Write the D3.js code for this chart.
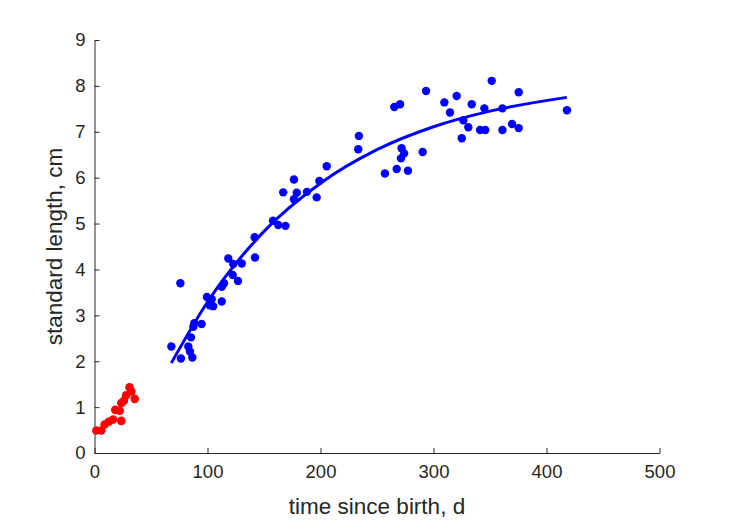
<!DOCTYPE html>
<html><head><meta charset="utf-8">
<script src="https://cdn.jsdelivr.net/npm/d3@7"></script>
<style>body{margin:0;background:#fff}svg{display:block}</style>
</head><body>
<script>
const redT = [1.6, 6, 9, 12.6, 16.4, 18.4, 22.3, 23.7, 23.7, 26, 28, 31, 32.6, 35.6];
const redL = [0.49, 0.49, 0.62, 0.68, 0.73, 0.94, 0.92, 0.70, 1.09, 1.14, 1.26, 1.43, 1.34, 1.18];
const blueT = [68, 76, 76.5, 83, 84.5, 85.4, 86.6, 87.5, 88.3, 94.8, 99.5, 103.7, 102, 105, 112.6, 112.6, 114.6,
  118.4, 122.3, 122.8, 127, 130.3, 141.7, 142, 158, 162.6, 169, 167, 176.5, 176.5, 179, 188, 196.6, 199, 205.5,
  233.4, 234, 257, 265.3, 267.4, 270.4, 271.2, 271.8, 274, 277.4, 290.4, 293.4, 309.6, 314.6, 320.5, 325, 326.4,
  330.8, 333.8, 341.2, 345, 345.8, 351.5, 361, 361, 369.5, 375.4, 375.4, 418.1];
const blueL = [2.32, 3.70, 2.06, 2.32, 2.21, 2.52, 2.08, 2.75, 2.83, 2.81, 3.40, 3.35, 3.22, 3.20, 3.30, 3.62, 3.70,
  4.24, 3.88, 4.12, 3.75, 4.13, 4.70, 4.26, 5.06, 4.97, 4.95, 5.68, 5.96, 5.53, 5.67, 5.69, 5.57, 5.93, 6.25,
  6.62, 6.91, 6.09, 7.54, 6.19, 7.60, 6.42, 6.64, 6.53, 6.15, 6.56, 7.89, 7.64, 7.42, 7.78, 6.86, 7.25,
  7.10, 7.60, 7.04, 7.51, 7.04, 8.11, 7.51, 7.04, 7.17, 7.86, 7.08, 7.47];
const fitT = [68, 100, 150, 200, 250, 300, 350, 418];
const fitL = [1.96, 3.29, 4.83, 5.88, 6.61, 7.11, 7.45, 7.75];
const xTicks = [0, 100, 200, 300, 400, 500];
const yTicks = [0, 1, 2, 3, 4, 5, 6, 7, 8, 9];
const xLabel = "time since birth, d";
const yLabel = "standard length, cm";

const W = 729, H = 521;
const m = {left: 94.5, right: 729 - 659.5, top: 40, bottom: 521 - 453};
const svg = d3.select("body").append("svg").attr("width", W).attr("height", H);
const x = d3.scaleLinear().domain([0, 500]).range([m.left, W - m.right]);
const y = d3.scaleLinear().domain([0, 9]).range([H - m.bottom, m.top]);
const axisColor = "#262626";
const font = "'Liberation Sans', Arial, Helvetica, sans-serif";

const gx = svg.append("g").attr("transform", `translate(0,${H - m.bottom})`)
  .call(d3.axisBottom(x).tickValues(xTicks).tickSizeInner(-5).tickSizeOuter(0).tickPadding(12));
const gy = svg.append("g").attr("transform", `translate(${m.left},0)`)
  .call(d3.axisLeft(y).tickValues(yTicks).tickSizeInner(-5).tickSizeOuter(0).tickPadding(9));
[gx, gy].forEach(g => {
  g.select(".domain").attr("stroke", axisColor);
  g.selectAll(".tick line").attr("stroke", axisColor);
  g.selectAll(".tick text").attr("fill", axisColor).style("font-family", font).style("font-size", "18.5px");
});

svg.append("text").attr("x", (x(0) + x(500)) / 2).attr("y", 514)
  .attr("text-anchor", "middle").attr("fill", axisColor)
  .style("font-family", font).style("font-size", "22.5px").text(xLabel);
svg.append("text").attr("transform", `translate(62,${(y(0) + y(9)) / 2}) rotate(-90)`)
  .attr("text-anchor", "middle").attr("fill", axisColor)
  .style("font-family", font).style("font-size", "22.5px").text(yLabel);

svg.append("g").selectAll("circle").data(redT.map((t, i) => [t, redL[i]])).join("circle")
  .attr("cx", d => x(d[0])).attr("cy", d => y(d[1])).attr("r", 4.3).attr("fill", "#ff0000");
svg.append("g").selectAll("circle").data(blueT.map((t, i) => [t, blueL[i]])).join("circle")
  .attr("cx", d => x(d[0])).attr("cy", d => y(d[1])).attr("r", 4.2).attr("fill", "#0000ff");

svg.append("path").datum(fitT.map((t, i) => [t, fitL[i]]))
  .attr("d", d3.line().x(d => x(d[0])).y(d => y(d[1])).curve(d3.curveMonotoneX))
  .attr("fill", "none").attr("stroke", "#0000ff").attr("stroke-width", 3);
</script>
</body></html>
